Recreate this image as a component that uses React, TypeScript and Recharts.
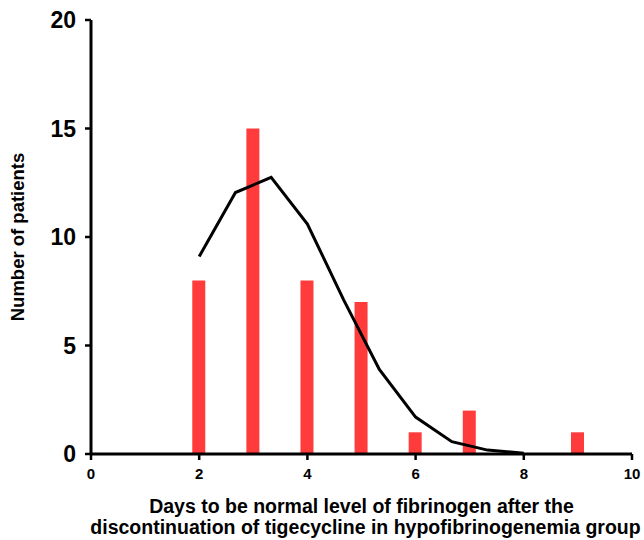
import React from "react";
import { ComposedChart, Bar, Line, XAxis, YAxis, Label } from "recharts";

const barDays = [2, 3, 4, 5, 6, 7, 9];
const barCounts = [8, 15, 8, 7, 1, 2, 1];

const fitDays = [2, 2.67, 3.33, 4, 4.67, 5.33, 6, 6.67, 7.33, 8];
const fitValues = [9.1, 12.05, 12.75, 10.6, 7.1, 3.9, 1.7, 0.57, 0.18, 0.04];

const xTicks = [0, 2, 4, 6, 8, 10];
const yTicks = [0, 5, 10, 15, 20];

const xLabelLines = [
  "Days to be normal level of fibrinogen after the",
  "discontinuation of tigecycline in hypofibrinogenemia group",
];
const yLabelText = "Number of patients";

type Row = { x: number; count?: number; fit?: number };

function buildData(): Row[] {
  const map = new Map<number, Row>();
  barDays.forEach((d, i) => {
    const r = map.get(d) || { x: d };
    r.count = barCounts[i];
    map.set(d, r);
  });
  fitDays.forEach((d, i) => {
    const r = map.get(d) || { x: d };
    r.fit = fitValues[i];
    map.set(d, r);
  });
  return Array.from(map.values()).sort((a, b) => a.x - b.x);
}

const data = buildData();
const FONT = "Arial, 'Liberation Sans', Helvetica, sans-serif";

const XLabel = (props: any) => {
  const vb = props.viewBox || {};
  const cx = (vb.x || 0) + (vb.width || 0) / 2;
  const y0 = vb.y || 0;
  return (
    <text fontFamily={FONT} fontWeight="bold" fontSize={19.5} fill="#000" textAnchor="middle">
      <tspan x={cx + 0} y={y0 + 59}>{xLabelLines[0]}</tspan>
      <tspan x={cx + 4} y={y0 + 80}>{xLabelLines[1]}</tspan>
    </text>
  );
};

const YLabel = (props: any) => {
  const vb = props.viewBox || {};
  const cy = (vb.y || 0) + (vb.height || 0) / 2;
  const x = 24;
  return (
    <text
      fontFamily={FONT}
      fontWeight="bold"
      fontSize={18.5}
      fill="#000"
      textAnchor="middle"
      transform={`rotate(-90, ${x}, ${cy})`}
      x={x}
      y={cy}
    >
      {yLabelText}
    </text>
  );
};

export default function App() {
  return (
    <div style={{ position: "absolute", left: 0, top: 0, width: 644, height: 540, background: "#fff" }}>
      <ComposedChart
        width={644}
        height={540}
        data={data}
        margin={{ top: 20, right: 12, bottom: 0, left: 0 }}
      >
        <XAxis
          type="number"
          dataKey="x"
          domain={[0, 10]}
          ticks={xTicks}
          allowDataOverflow
          height={86}
          axisLine={{ stroke: "#000", strokeWidth: 3 }}
          tickLine={{ stroke: "#000", strokeWidth: 2.5 }}
          tickSize={6}
          tickMargin={8}
          tick={{ fontSize: 15, fontWeight: "bold", fill: "#000", fontFamily: FONT }}
        >
          <Label content={<XLabel />} />
        </XAxis>
        <YAxis
          type="number"
          domain={[0, 20]}
          ticks={yTicks}
          width={91}
          axisLine={{ stroke: "#000", strokeWidth: 3 }}
          tickLine={{ stroke: "#000", strokeWidth: 2.5 }}
          tickSize={6}
          tickMargin={9}
          tick={{ fontSize: 23, fontWeight: "bold", fill: "#000", fontFamily: FONT }}
        >
          <Label content={<YLabel />} />
        </YAxis>
        <Bar dataKey="count" fill="#ff3b3b" barSize={13} isAnimationActive={false} />
        <Line
          type="linear"
          dataKey="fit"
          stroke="#000"
          strokeWidth={3}
          dot={false}
          connectNulls
          isAnimationActive={false}
        />
      </ComposedChart>
    </div>
  );
}
